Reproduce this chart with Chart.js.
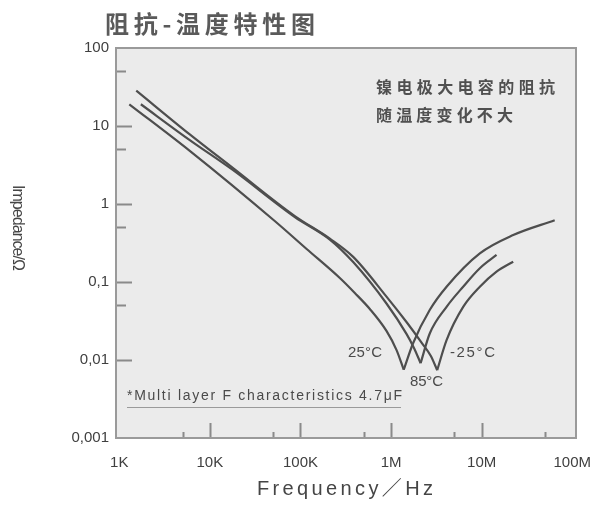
<!DOCTYPE html>
<html>
<head>
<meta charset="utf-8">
<script src="https://cdn.jsdelivr.net/npm/chart.js@4/dist/chart.umd.min.js"></script>
<style>
html,body{margin:0;padding:0;background:#fff;}
#wrap{width:590px;height:512px;position:relative;}
</style>
</head>
<body>
<div id="wrap"><canvas id="c" width="590" height="512"></canvas></div>
<script>
// ---- data ----
const xTickValues = [1e3, 1e4, 1e5, 1e6, 1e7, 1e8];
const xTickLabels = ['1K', '10K', '100K', '1M', '10M', '100M'];
const yTickValues = [0.001, 0.01, 0.1, 1, 10, 100];
const yTickLabels = ['0,001', '0,01', '0,1', '1', '10', '100'];
const xMinorTicks = [5e3, 5e4, 5e5, 5e6, 5e7];
const yMinorTicks = [0.05, 0.5, 5, 50];

const seriesNames = ['25°C', '85°C', '-25°C'];

const freq25 = [1.29e3, 6.0e3, 5.2e4, 1.17e5, 2.72e5, 3.98e5, 5.83e5, 8.9e5, 1.15e6, 1.38e6, 1.75e6, 2.68e6, 4.1e6, 9.55e6, 2.23e7, 6.4e7];
const imp25  = [19, 4.8, 0.605, 0.265, 0.1125, 0.0723, 0.0451, 0.0236, 0.0134, 0.0075, 0.0164, 0.044, 0.087, 0.233, 0.40, 0.62];

const freq85 = [1.73e3, 6.0e3, 1.79e4, 8.67e4, 2.11e5, 3.82e5, 8.9e5, 1.48e6, 1.79e6, 2.12e6, 2.68e6, 4.1e6, 6.25e6, 9.55e6, 1.46e7];
const imp85  = [19, 6.6, 2.73, 0.68, 0.35, 0.18, 0.053, 0.0216, 0.01426, 0.0091, 0.022, 0.048, 0.087, 0.150, 0.222];

const freqM25 = [1.54e3, 6.0e3, 1.79e4, 8.67e4, 2.11e5, 3.82e5, 8.9e5, 1.48e6, 2.19e6, 2.75e6, 3.23e6, 4.1e6, 6.25e6, 9.55e6, 1.46e7, 2.23e7];
const impM25  = [28.4, 7.8, 2.9, 0.70, 0.36, 0.21, 0.065, 0.0307, 0.0165, 0.01125, 0.0074, 0.018, 0.048, 0.087, 0.136, 0.182];

const titleText = '阻抗-温度特性图';
const noteLine1 = '镍电极大电容的阻抗';
const noteLine2 = '随温度变化不大';
const footNote = '*Multi layer F characteristics 4.7μF';
const xTitle = 'Frequency／Hz';
const yTitle = 'Impedance/Ω';

// ---- build datasets: split each curve at its resonance dip ----
const LINE = '#4e4e4e';
function branches(fr, im, name) {
  let k = 0;
  im.forEach((v, i) => { if (v < im[k]) k = i; });
  const pts = fr.map((f, i) => ({x: f, y: im[i]}));
  const mk = (d) => ({
    label: name, data: d, showLine: true, pointRadius: 0,
    borderColor: LINE, borderWidth: 2.2, cubicInterpolationMode: 'monotone', fill: false
  });
  return [mk(pts.slice(0, k + 1)), mk(pts.slice(k))];
}
const datasets = [
  ...branches(freq25, imp25, seriesNames[0]),
  ...branches(freq85, imp85, seriesNames[1]),
  ...branches(freqM25, impM25, seriesNames[2])
];

function drawFit(ctx, text, x, y, width) {
  const chars = Array.from(text);
  let total = 0;
  const ws = chars.map(c => { const w = ctx.measureText(c).width; total += w; return w; });
  const sp = chars.length > 1 ? (width - total) / (chars.length - 1) : 0;
  let cx = x;
  chars.forEach((c, i) => { ctx.fillText(c, cx, y); cx += ws[i] + sp; });
}

const decor = {
  id: 'decor',
  beforeDraw(chart) {
    const {ctx, chartArea: a} = chart;
    ctx.save();
    ctx.fillStyle = '#ffffff';
    ctx.fillRect(0, 0, chart.width, chart.height);
    ctx.fillStyle = '#ebebeb';
    ctx.fillRect(a.left, a.top, a.right - a.left, a.bottom - a.top);
    ctx.restore();
  },
  afterDraw(chart) {
    const {ctx, chartArea: a, scales} = chart;
    const xs = scales.x, ys = scales.y;
    ctx.save();
    // tick marks (inward)
    ctx.strokeStyle = '#8a8a8a';
    ctx.lineWidth = 2;
    ctx.beginPath();
    yTickValues.forEach(v => {
      if (v <= 0.001 || v >= 100) return;
      const y = Math.round(ys.getPixelForValue(v)) + 0.5;
      ctx.moveTo(a.left, y); ctx.lineTo(a.left + 16, y);
    });
    yMinorTicks.forEach(v => {
      const y = Math.round(ys.getPixelForValue(v)) + 0.5;
      ctx.moveTo(a.left, y); ctx.lineTo(a.left + 10, y);
    });
    xTickValues.forEach(v => {
      if (v <= 1e3 || v >= 1e8) return;
      const x = Math.round(xs.getPixelForValue(v)) + 0.5;
      ctx.moveTo(x, a.bottom); ctx.lineTo(x, a.bottom - 15);
    });
    xMinorTicks.forEach(v => {
      const x = Math.round(xs.getPixelForValue(v)) + 0.5;
      ctx.moveTo(x, a.bottom); ctx.lineTo(x, a.bottom - 6);
    });
    ctx.stroke();
    // frame
    ctx.strokeStyle = '#9a9a9a';
    ctx.lineWidth = 2;
    ctx.strokeRect(a.left, a.top, a.right - a.left, a.bottom - a.top);

    // title
    ctx.fillStyle = '#5a5a5a';
    ctx.textBaseline = 'middle';
    ctx.font = 'bold 24px "Noto Sans CJK SC"';
    drawFit(ctx, titleText, 105, 24, 210);

    // note in plot
    ctx.fillStyle = '#505050';
    ctx.font = 'bold 16px "Noto Sans CJK SC"';
    drawFit(ctx, noteLine1, 376, 87, 179);
    drawFit(ctx, noteLine2, 376, 115, 137);

    // temperature labels
    ctx.fillStyle = '#4a4a4a';
    ctx.font = '15px "Liberation Sans"';
    drawFit(ctx, seriesNames[0], 348, 353, 34);
    drawFit(ctx, seriesNames[1], 410, 382, 33);
    drawFit(ctx, seriesNames[2], 450, 353, 45);

    // footnote
    ctx.font = '14px "Liberation Sans"';
    drawFit(ctx, footNote, 127, 396, 275);
    ctx.strokeStyle = '#9a9a9a';
    ctx.lineWidth = 1;
    ctx.beginPath();
    ctx.moveTo(127, 407.5); ctx.lineTo(401, 407.5);
    ctx.stroke();

    // axis titles
    ctx.fillStyle = '#454545';
    ctx.font = '20px "Liberation Sans", "Noto Sans CJK SC"';
    drawFit(ctx, xTitle, 257, 489, 176);

    ctx.translate(17, 185);
    ctx.rotate(Math.PI / 2);
    ctx.font = '16px "Liberation Sans"';
    drawFit(ctx, yTitle, 0, 0, 86);
    ctx.restore();
  }
};

new Chart(document.getElementById('c'), {
  type: 'scatter',
  data: { datasets },
  plugins: [decor],
  options: {
    responsive: false,
    devicePixelRatio: 1,
    animation: false,
    layout: { padding: { left: 0, right: 14, top: 48, bottom: 0 } },
    plugins: { legend: { display: false }, tooltip: { enabled: false }, title: { display: false } },
    scales: {
      x: {
        type: 'logarithmic', min: 920, max: 1.1e8,
        grid: { display: false, drawTicks: false },
        border: { display: false },
        afterBuildTicks: s => { s.ticks = xTickValues.map(v => ({ value: v })); },
        afterFit: s => { s.height = 74; s.paddingLeft = 0; s.paddingRight = 0; },
        ticks: {
          autoSkip: false, maxRotation: 0, padding: 16,
          color: '#404040', font: { family: 'Liberation Sans', size: 15 },
          callback: (v) => { const i = xTickValues.indexOf(v); return i >= 0 ? xTickLabels[i] : ''; }
        }
      },
      y: {
        type: 'logarithmic', min: 0.001, max: 100,
        grid: { display: false, drawTicks: false },
        border: { display: false },
        afterBuildTicks: s => { s.ticks = yTickValues.map(v => ({ value: v })); },
        afterFit: s => { s.width = 116; s.paddingTop = 0; s.paddingBottom = 0; },
        ticks: {
          autoSkip: false, padding: 7,
          color: '#404040', font: { family: 'Liberation Sans', size: 15 },
          callback: (v) => { const i = yTickValues.indexOf(v); return i >= 0 ? yTickLabels[i] : ''; }
        }
      }
    }
  }
});
</script>
</body>
</html>
